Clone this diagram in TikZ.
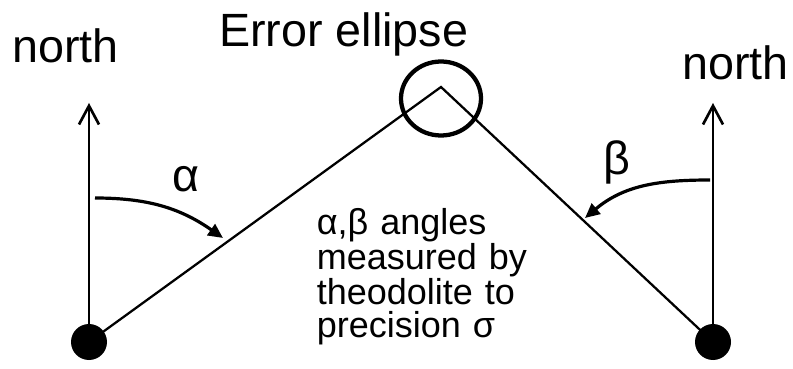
\documentclass[tikz,border=0pt]{standalone}
\usepackage{fontspec}
\setmainfont{Liberation Sans}
\usetikzlibrary{arrows.meta,shapes.geometric}
\begin{document}
\begin{tikzpicture}[x=0.75pt,y=0.75pt,
  bigtext/.style={font=\fontsize{35}{40}\selectfont, inner sep=0pt},
  station/.style={circle, fill=black, minimum size=27pt, inner sep=0pt},
  mainline/.style={line width=1.7pt},
  errell/.style={draw, ellipse, line width=3.2pt, minimum width=60pt, minimum height=55.5pt, inner sep=0pt},
  northarrow/.style={line width=2pt, -{Straight Barb[length=14pt,width=15pt,line width=2pt]}},
  anglearrow/.style={line width=2.4pt, -{Triangle[length=11pt,width=10pt]}}]
\useasboundingbox (0,0) rectangle (793,368);
% stations and apex
\coordinate (P) at (441,281);
\node[station] (A) at (89,26) {};
\node[station] (B) at (713,26) {};
\coordinate (An) at (89,265);
\coordinate (Bn) at (713,265);
% error ellipse
\node[errell] (E) at (441,269.5) {};
% sight lines
\draw[mainline] (A.center) -- (P) -- (B.center);
% north arrows
\draw[northarrow] (A.center) -- (An);
\draw[northarrow] (B.center) -- (Bn);
% angle arcs
\coordinate (a0) at (95,170);
\coordinate (a1) at (223,130);
\coordinate (b0) at (710,188);
\coordinate (b1) at (585,150);
\draw[anglearrow] (a0) to[out=0,in=145] (a1);
\draw[anglearrow] (b0) to[out=180,in=40] (b1);
% labels
\node[bigtext, anchor=base west] (nl) at (12,305) {north};
\node[bigtext, anchor=base west] (nr) at (682,288) {north};
\node[bigtext, anchor=base west] (el) at (219,321) {Error ellipse};
\node[bigtext, anchor=base] (al) at (186,176) {α};
\node[bigtext, anchor=base] (bl) at (617,193) {β};
\node[anchor=base west, inner sep=0pt, align=left, text width=200pt,
  font=\fontsize{27}{24.4}\selectfont] (txt) at (316.5,133)
  {α,β angles\\measured by\\theodolite to\\precision σ};
\end{tikzpicture}
\end{document}
